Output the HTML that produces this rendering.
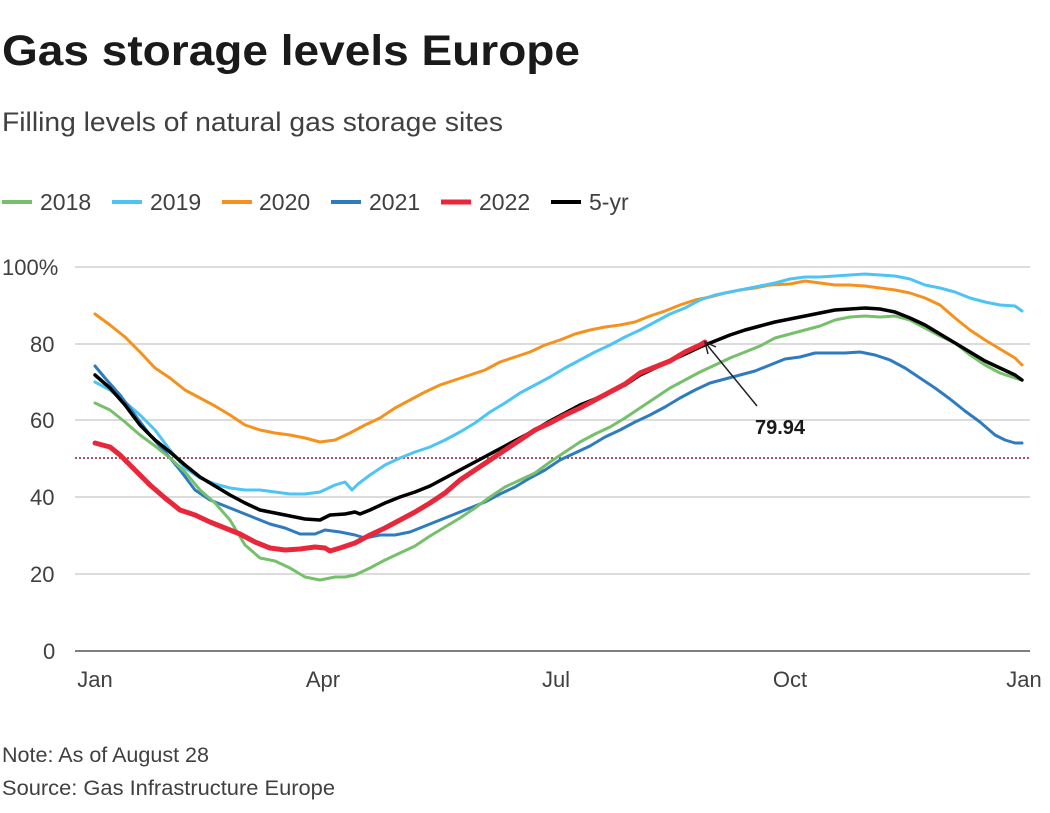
<!DOCTYPE html>
<html><head><meta charset="utf-8"><style>
html,body{margin:0;padding:0;background:#fff;}
body{width:1050px;height:808px;overflow:hidden;font-family:"Liberation Sans",sans-serif;}
</style></head><body>
<svg width="1050" height="808" xmlns="http://www.w3.org/2000/svg" font-family="Liberation Sans, sans-serif">
<text x="2" y="65" font-size="43" font-weight="bold" fill="#1a1a1a" textLength="578" lengthAdjust="spacingAndGlyphs">Gas storage levels Europe</text>
<text x="2" y="131" font-size="27" fill="#404040" textLength="501" lengthAdjust="spacingAndGlyphs">Filling levels of natural gas storage sites</text>
<g font-size="23" fill="#404040">
<line x1="2" y1="202" x2="32" y2="202" stroke="#76c06c" stroke-width="4"/><text x="40" y="210">2018</text>
<line x1="112" y1="202" x2="142" y2="202" stroke="#4cc4f4" stroke-width="4"/><text x="150" y="210">2019</text>
<line x1="222" y1="202" x2="252" y2="202" stroke="#f5921e" stroke-width="4"/><text x="259" y="210">2020</text>
<line x1="331" y1="202" x2="361" y2="202" stroke="#2e7bbf" stroke-width="4"/><text x="369" y="210">2021</text>
<line x1="441" y1="202" x2="471" y2="202" stroke="#e8283a" stroke-width="5"/><text x="479" y="210">2022</text>
<line x1="551" y1="202" x2="581" y2="202" stroke="#000" stroke-width="4"/><text x="589" y="210">5-yr</text>
</g>
<g stroke="#c8c8c8" stroke-width="1.3">
<line x1="75" y1="267" x2="1030" y2="267"/><line x1="75" y1="344" x2="1030" y2="344"/>
<line x1="75" y1="420" x2="1030" y2="420"/><line x1="75" y1="497" x2="1030" y2="497"/>
<line x1="75" y1="574" x2="1030" y2="574"/>
</g>
<line x1="75" y1="651" x2="1030" y2="651" stroke="#333" stroke-width="1.3"/>
<line x1="75" y1="458" x2="1030" y2="458" stroke="#8b1a3c" stroke-width="1.5" stroke-dasharray="2,2"/>
<g font-size="22" fill="#404040">
<text x="2" y="275">100%</text><text x="30" y="352">80</text><text x="30" y="428">60</text>
<text x="30" y="505">40</text><text x="30" y="582">20</text><text x="43" y="659">0</text>
<text x="95" y="687" text-anchor="middle">Jan</text><text x="323" y="687" text-anchor="middle">Apr</text>
<text x="556" y="687" text-anchor="middle">Jul</text><text x="790" y="687" text-anchor="middle">Oct</text>
<text x="1024" y="687" text-anchor="middle">Jan</text>
</g>
<g fill="none" stroke-linejoin="round" stroke-linecap="round">
<polyline stroke="#f5921e" stroke-width="3" points="95,314 110,325 125,337 140,352 155,368 170,378 185,390 200,398 215,406 230,415 245,425 260,430 275,433 290,435 305,438 320,442 335,440 350,433 365,425 380,418 395,408 410,400 425,392 440,385 455,380 470,375 485,370 500,362 515,357 530,352 545,345 560,340 575,334 590,330 605,327 620,325 635,322 650,316 665,311 680,305 695,300 710,297 725,293 740,290 755,288 770,285 790,284 805,281 820,283 835,285 850,285 865,286 880,288 895,290 910,293 925,298 940,305 955,318 970,330 985,340 1000,349 1015,358 1022,365"/>
<polyline stroke="#4cc4f4" stroke-width="3" points="95,382 110,390 125,402 140,415 155,430 170,450 185,468 200,478 215,484 230,488 245,490 260,490 275,492 290,494 305,494 320,492 335,485 345,482 352,490 358,484 370,475 385,465 400,458 415,452 430,447 445,440 460,432 475,423 490,412 505,403 520,393 535,385 550,377 565,368 580,360 595,352 610,345 625,337 640,330 655,322 670,314 685,308 700,300 715,295 730,292 745,289 760,286 775,283 790,279 805,277 820,277 835,276 850,275 865,274 880,275 895,276 910,279 925,285 940,288 955,292 970,298 985,302 1000,305 1015,306 1022,311"/>
<polyline stroke="#2e7bbf" stroke-width="3" points="95,366 105,378 120,395 135,415 150,435 165,452 180,470 195,490 210,500 225,506 240,512 255,518 270,524 285,528 300,534 315,534 325,530 340,532 355,535 365,538 380,535 395,535 410,532 425,526 440,520 455,514 470,508 485,502 500,494 515,487 530,478 545,470 560,460 575,453 590,446 605,437 620,430 635,422 650,415 665,407 680,398 695,390 710,383 725,379 740,375 755,371 770,365 785,359 800,357 815,353 830,353 845,353 860,352 875,355 890,360 905,368 920,378 935,388 950,399 965,411 980,422 995,435 1005,440 1015,443 1022,443"/>
<polyline stroke="#76c06c" stroke-width="3" points="95,403 110,410 125,422 140,435 155,446 170,458 185,472 200,490 215,503 230,520 245,545 260,558 275,561 290,568 305,577 320,580 335,577 345,577 355,575 370,568 385,560 400,553 415,546 430,536 445,527 460,518 475,508 490,497 505,487 520,480 535,473 550,462 565,452 580,442 595,434 610,427 625,418 640,408 655,398 670,388 685,380 700,372 715,365 730,358 745,352 760,346 775,338 790,334 805,330 820,326 835,320 850,317 865,316 880,317 895,316 910,320 925,328 940,336 955,343 970,355 985,365 1000,373 1015,378 1022,380"/>
<polyline stroke="#000" stroke-width="3.5" points="95,375 110,388 125,405 140,425 155,440 170,452 185,465 200,477 215,486 230,495 245,503 260,510 275,513 290,516 305,519 320,520 330,515 345,514 355,512 360,514 370,510 385,503 400,497 415,492 430,486 445,478 460,470 475,462 490,454 505,446 520,438 535,430 550,421 565,413 580,405 595,399 610,392 625,385 640,375 655,368 670,361 685,354 700,347 715,341 730,335 745,330 760,326 775,322 790,319 805,316 820,313 835,310 850,309 865,308 880,309 895,312 910,318 925,325 940,334 955,343 970,352 985,361 1000,368 1015,375 1022,380"/>
<polyline stroke="#e8283a" stroke-width="5" points="95,443 110,447 120,455 125,460 135,470 150,485 165,498 180,510 195,515 210,522 225,528 240,534 255,542 270,548 285,550 300,549 315,547 325,548 330,551 340,548 355,543 370,535 385,528 400,520 415,512 430,503 445,493 460,480 475,470 490,460 505,450 520,440 535,430 550,423 565,415 580,408 595,400 610,392 625,384 640,373 655,367 670,361 685,352 700,345 705,342"/>
</g>
<line x1="757" y1="406" x2="708" y2="346" stroke="#222" stroke-width="1.5"/>
<polyline points="708,354 705,342 716,347" fill="none" stroke="#222" stroke-width="1.5"/>
<text x="780" y="434" font-size="20" font-weight="bold" fill="#1a1a1a" text-anchor="middle">79.94</text>
<text x="2" y="762" font-size="21" fill="#404040" textLength="207" lengthAdjust="spacingAndGlyphs">Note: As of August 28</text>
<text x="2" y="795" font-size="21" fill="#404040" textLength="333" lengthAdjust="spacingAndGlyphs">Source: Gas Infrastructure Europe</text>
</svg>
</body></html>
